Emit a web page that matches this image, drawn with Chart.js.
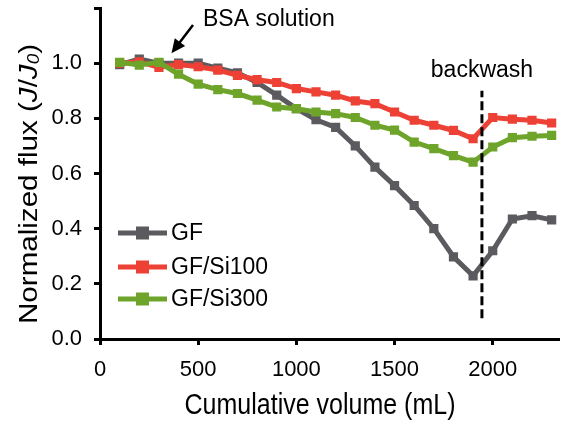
<!DOCTYPE html>
<html>
<head>
<meta charset="utf-8">
<script src="https://cdn.jsdelivr.net/npm/chart.js@4/dist/chart.umd.min.js"></script>
<style>
  html, body { margin: 0; padding: 0; background: #fff; }
  #wrap { width: 566px; height: 421px; }
</style>
</head>
<body>
<div id="wrap"><canvas id="chart"></canvas></div>
<script>
// Cumulative volume (mL)
const volumes = [100, 200, 300, 400, 500, 600, 700, 800, 900, 1000, 1100, 1200,
  1300, 1400, 1500, 1600, 1700, 1800, 1900, 2000, 2100, 2200, 2300];

// Normalized flux J/J0
const gfFlux = [0.995, 1.015, 1.0, 1.0, 1.0, 0.982, 0.965, 0.93, 0.884, 0.835, 0.795, 0.767,
  0.70, 0.623, 0.556, 0.484, 0.40, 0.298, 0.229, 0.32, 0.435, 0.447, 0.432];
const si100Flux = [1.0, 1.005, 0.985, 0.995, 0.987, 0.975, 0.956, 0.94, 0.93, 0.908, 0.896, 0.884,
  0.863, 0.853, 0.823, 0.793, 0.775, 0.756, 0.726, 0.803, 0.797, 0.793, 0.783];
const si300Flux = [1.003, 0.993, 1.003, 0.96, 0.924, 0.904, 0.89, 0.866, 0.841, 0.835, 0.823, 0.817,
  0.803, 0.775, 0.757, 0.714, 0.69, 0.665, 0.641, 0.696, 0.73, 0.735, 0.738];

const seriesNames = ['GF', 'GF/Si100', 'GF/Si300'];
const seriesColors = ['#5b5b5f', '#ee4136', '#6ea42a'];

// backwash marker line
const backwashX = [1945, 1945];
const backwashY = [0.075, 0.9];

const xTicks = [0, 500, 1000, 1500, 2000];
const yTicks = [0, 0.1, 0.2, 0.3, 0.4, 0.5, 0.6, 0.7, 0.8, 0.9, 1.0, 1.1, 1.2];

const FONT = '"Liberation Sans", Arial, sans-serif';

function pts(xs, ys) {
  return xs.map((x, i) => ({ x: x, y: ys[i] }));
}

const datasets = [gfFlux, si100Flux, si300Flux].map((vals, i) => ({
  label: seriesNames[i],
  data: pts(volumes, vals),
  borderColor: seriesColors[i],
  backgroundColor: seriesColors[i],
  borderWidth: 5,
  pointStyle: 'rect',
  pointRadius: 6.5,
  pointBorderWidth: 0,
  order: 3 - i
}));
datasets.push({
  label: 'backwash',
  data: pts(backwashX, backwashY),
  borderColor: '#000',
  borderWidth: 3,
  borderDash: [9, 4],
  pointRadius: 0,
  order: 0
});

// legend, titles and annotations drawn on top of the chart
const extras = {
  id: 'extras',
  afterDraw(chart) {
    const ctx = chart.ctx;
    const xs = chart.scales.x, ys = chart.scales.y;
    ctx.save();
    ctx.fillStyle = '#000';
    ctx.textBaseline = 'middle';

    // legend
    ctx.font = '23px ' + FONT;
    const rows = [233, 267, 299];
    seriesNames.forEach((name, i) => {
      const y = rows[i];
      ctx.strokeStyle = seriesColors[i];
      ctx.lineWidth = 5;
      ctx.beginPath();
      ctx.moveTo(118, y);
      ctx.lineTo(167, y);
      ctx.stroke();
      ctx.fillStyle = seriesColors[i];
      ctx.fillRect(136, y - 6.5, 13, 13);
      ctx.fillStyle = '#000';
      ctx.textAlign = 'left';
      ctx.fillText(name, 171, y + 1);
    });

    // backwash label
    ctx.font = '23px ' + FONT;
    ctx.textAlign = 'center';
    ctx.fillText('backwash', xs.getPixelForValue(1945), 71);

    // BSA solution label + arrow
    ctx.textAlign = 'left';
    ctx.fillText('BSA solution', 203, 20);
    const tx = xs.getPixelForValue(364), ty = ys.getPixelForValue(1.036);
    const sx = 193, sy = 25;
    const ang = Math.atan2(ty - sy, tx - sx);
    ctx.strokeStyle = '#000';
    ctx.lineWidth = 2.5;
    ctx.beginPath();
    ctx.moveTo(sx, sy);
    ctx.lineTo(tx - 9 * Math.cos(ang), ty - 9 * Math.sin(ang));
    ctx.stroke();
    ctx.beginPath();
    ctx.moveTo(tx, ty);
    ctx.lineTo(tx - 14 * Math.cos(ang) + 6.5 * Math.sin(ang), ty - 14 * Math.sin(ang) - 6.5 * Math.cos(ang));
    ctx.lineTo(tx - 14 * Math.cos(ang) - 6.5 * Math.sin(ang), ty - 14 * Math.sin(ang) + 6.5 * Math.cos(ang));
    ctx.closePath();
    ctx.fill();

    // x axis title
    ctx.save();
    ctx.font = '25px ' + FONT;
    ctx.textAlign = 'center';
    ctx.textBaseline = 'alphabetic';
    ctx.translate(320, 414);
    ctx.scale(1, 1.18);
    ctx.fillText('Cumulative volume (mL)', 0, 0);
    ctx.restore();

    // y axis title with italic J/J0
    const parts = [
      { t: 'Normalized flux (', f: '25px ' + FONT, dy: 0 },
      { t: 'J', f: 'italic 25px ' + FONT, dy: 0 },
      { t: '/', f: '25px ' + FONT, dy: 0 },
      { t: 'J', f: 'italic 25px ' + FONT, dy: 0 },
      { t: '0', f: 'italic 16px ' + FONT, dy: 5 },
      { t: ')', f: '25px ' + FONT, dy: 0 }
    ];
    let total = 0;
    parts.forEach(p => { ctx.font = p.f; p.w = ctx.measureText(p.t).width; total += p.w; });
    ctx.translate(30, 184);
    ctx.rotate(-Math.PI / 2);
    ctx.scale(280 / total, 1);
    let cx = -total / 2;
    ctx.textAlign = 'left';
    parts.forEach(p => {
      ctx.font = p.f;
      ctx.fillText(p.t, cx, p.dy);
      cx += p.w;
    });
    ctx.restore();
  }
};

new Chart(document.getElementById('chart'), {
  type: 'line',
  data: { datasets: datasets },
  options: {
    responsive: true,
    maintainAspectRatio: false,
    animation: false,
    layout: { padding: { top: 8, right: 2, left: 0, bottom: 0 } },
    plugins: {
      legend: { display: false },
      tooltip: { enabled: false }
    },
    scales: {
      x: {
        type: 'linear',
        min: 0,
        max: 2340,
        afterBuildTicks: s => { s.ticks = xTicks.map(v => ({ value: v })); },
        afterFit: s => { s.height = 82; s.paddingLeft = 0; s.paddingRight = 0; },
        border: { display: true, color: '#000', width: 3 },
        grid: { drawOnChartArea: false, drawTicks: true, tickLength: 6, tickWidth: 3, tickColor: '#000' },
        ticks: {
          color: '#000',
          font: { family: FONT, size: 22 },
          padding: 12,
          maxRotation: 0,
          callback: v => String(v)
        }
      },
      y: {
        min: 0,
        max: 1.2,
        afterBuildTicks: s => { s.ticks = yTicks.map(v => ({ value: v })); },
        afterFit: s => { s.width = 100; s.paddingTop = 0; s.paddingBottom = 0; },
        border: { display: true, color: '#000', width: 3 },
        grid: { drawOnChartArea: false, drawTicks: true, tickLength: 6, tickWidth: 3, tickColor: '#000' },
        ticks: {
          color: '#000',
          font: { family: FONT, size: 22 },
          padding: 12,
          callback: v => {
            const r = Math.round(v * 10);
            return (r % 2 === 0 && r <= 10) ? (r / 10).toFixed(1) : '';
          }
        }
      }
    }
  },
  plugins: [extras]
});
</script>
</body>
</html>
